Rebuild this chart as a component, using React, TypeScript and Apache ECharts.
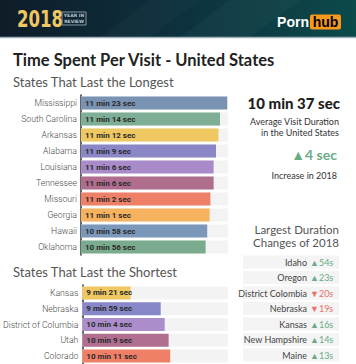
import React, { useEffect, useRef } from 'react';
import * as echarts from 'echarts';

const longStates = ['Mississippi', 'South Carolina', 'Arkansas', 'Alabama', 'Louisiana', 'Tennessee', 'Missouri', 'Georgia', 'Hawaii', 'Oklahoma'];
const longSeconds = [683, 674, 672, 669, 666, 666, 662, 661, 658, 656];
const longColors = ['#7b93b3', '#7fae96', '#efc862', '#8b86c6', '#a98bc9', '#b06e8e', '#ef8068', '#f6b25f', '#7b98bb', '#7bab8f'];

const shortStates = ['Kansas', 'Nebraska', 'District of Columbia', 'Utah', 'Colorado'];
const shortSeconds = [561, 599, 604, 609, 611];
const shortColors = ['#efc862', '#8887c8', '#ab8dcc', '#b06f8f', '#ef7f67'];

const changeStates = ['Idaho', 'Oregon', 'District Colombia', 'Nebraska', 'Kansas', 'New Hampshire', 'Maine'];
const changeSeconds = [54, 23, -20, -19, 16, 14, 13];

const averageText = '10 min 37 sec';
const increaseText = '4 sec';

const FONT = 'Lato';
const GREEN = '#6aab86';
const RED = '#e8736a';

const fmt = (v: number) => `${Math.floor(v / 60)} min ${v % 60} sec`;

function barSeries(idx: number, values: number[], colors: string[]) {
  return {
    type: 'bar',
    xAxisIndex: idx,
    yAxisIndex: idx,
    barWidth: 13,
    showBackground: true,
    backgroundStyle: { color: '#f3f3f3' },
    data: values.map((v, i) => ({ value: v, itemStyle: { color: colors[i] } })),
    label: {
      show: true,
      position: 'insideLeft',
      distance: 4,
      fontSize: 8,
      fontWeight: 'bold',
      fontFamily: 'Roboto',
      color: '#2a2a2a',
      formatter: (p: any) => fmt(p.value),
    },
  };
}

function yAxis(idx: number, data: string[]) {
  return {
    gridIndex: idx,
    type: 'category',
    data,
    inverse: true,
    axisLine: { show: true, onZero: false, lineStyle: { color: '#333', width: 1.5 } },
    axisTick: { show: false },
    axisLabel: { fontSize: 8.7, color: '#4a4a4a', fontWeight: 300, margin: 4, fontFamily: 'Roboto' },
  };
}

function xAxis(idx: number) {
  return { gridIndex: idx, type: 'value', min: 500, max: 684, startValue: 500, show: false };
}

export default function App() {
  const ref = useRef<HTMLDivElement>(null);
  useEffect(() => {
    document.body.style.margin = '0';
    const chart = echarts.init(ref.current!, null, { renderer: 'svg' });

    const table: any[] = [];
    changeStates.forEach((s, i) => {
      const y = 262 + i * 15.5;
      const v = changeSeconds[i];
      table.push({ type: 'rect', shape: { x: 243, y: y - 6.5, width: 96, height: 13 }, style: { fill: '#f4f4f4' } });
      table.push({ type: 'text', x: 307, y, style: { text: s, fontSize: 9, fontFamily: FONT, fill: '#444', align: 'right', verticalAlign: 'middle' } });
      table.push({
        type: 'text', x: 310, y,
        style: { text: `${v >= 0 ? '▲' : '▼'}${Math.abs(v)}s`, fontSize: 9, fontFamily: FONT, fill: v >= 0 ? GREEN : RED, align: 'left', verticalAlign: 'middle' },
      });
    });

    chart.setOption({
      animation: false,
      backgroundColor: '#ffffff',
      grid: [
        { left: 81, top: 95, width: 147, height: 160 },
        { left: 81, top: 285, width: 147, height: 79 },
      ],
      xAxis: [xAxis(0), xAxis(1)],
      yAxis: [yAxis(0, longStates), yAxis(1, shortStates)],
      series: [barSeries(0, longSeconds, longColors), barSeries(1, shortSeconds, shortColors)],
      graphic: [
        {
          type: 'rect', shape: { x: 0, y: 0, width: 356, height: 37 },
          style: { fill: new echarts.graphic.LinearGradient(0, 0, 1, 0, [{ offset: 0, color: '#0e1c28' }, { offset: 0.55, color: '#0d3340' }, { offset: 1, color: '#0c4a4a' }]) },
        },
        { type: 'polygon', shape: { points: [[150, 0], [200, 0], [150, 37], [100, 37]] }, style: { fill: 'rgba(255,255,255,0.025)' } },
        { type: 'polygon', shape: { points: [[230, 0], [300, 0], [250, 37], [180, 37]] }, style: { fill: 'rgba(255,255,255,0.03)' } },
        { type: 'line', shape: { x1: 0, y1: 37.5, x2: 356, y2: 37.5 }, style: { stroke: '#9fb1ba', lineWidth: 1.5 } },
        { type: 'text', x: 17, y: 7, scaleX: 0.72, style: { text: '2018', fontSize: 23, fontWeight: 'bold', fontFamily: 'DejaVu Sans', fill: '#f2c660' } },
        { type: 'rect', shape: { x: 62, y: 12, width: 24, height: 13 }, style: { fill: 'none', stroke: '#8697a2', lineWidth: 1 } },
        { type: 'text', x: 74, y: 15.5, style: { text: 'YEAR IN', fontSize: 4.5, fontWeight: 'bold', fontFamily: 'DejaVu Sans', fill: '#b9c5cd', align: 'center', verticalAlign: 'middle' } },
        { type: 'text', x: 74, y: 21, style: { text: 'REVIEW', fontSize: 4.5, fontWeight: 'bold', fontFamily: 'DejaVu Sans', fill: '#b9c5cd', align: 'center', verticalAlign: 'middle' } },
        { type: 'text', x: 309, y: 22, style: { text: 'Porn', fontSize: 14, fontWeight: 'bold', fontFamily: 'Liberation Sans', fill: '#ffffff', align: 'right', verticalAlign: 'middle' } },
        { type: 'rect', shape: { x: 310, y: 14.5, width: 31, height: 15, r: 2 }, style: { fill: '#f7981d' } },
        { type: 'text', x: 325.5, y: 22, style: { text: 'hub', fontSize: 14, fontWeight: 'bold', fontFamily: 'Liberation Sans', fill: '#000000', align: 'center', verticalAlign: 'middle' } },

        { type: 'text', x: 13, y: 60, style: { text: 'Time Spent Per Visit - United States', fontSize: 16.5, fontWeight: 'bold', fontFamily: FONT, fill: '#222', verticalAlign: 'middle' } },
        { type: 'text', x: 13, y: 82, style: { text: 'States That Last the Longest', fontSize: 13, fontFamily: FONT, fill: '#555', verticalAlign: 'middle' } },
        { type: 'text', x: 13, y: 272, style: { text: 'States That Last the Shortest', fontSize: 13, fontFamily: FONT, fill: '#555', verticalAlign: 'middle' } },

        { type: 'text', x: 340, y: 103, style: { text: averageText, fontSize: 15, fontWeight: 900, fontFamily: FONT, fill: '#1e1e1e', align: 'right', verticalAlign: 'middle' } },
        { type: 'text', x: 339, y: 121, style: { text: 'Average Visit Duration', fontSize: 9, fontFamily: FONT, fill: '#333', align: 'right', verticalAlign: 'middle' } },
        { type: 'text', x: 339, y: 132.5, style: { text: 'in the United States', fontSize: 9, fontFamily: FONT, fill: '#333', align: 'right', verticalAlign: 'middle' } },
        { type: 'text', x: 337, y: 154, style: { text: '▲' + increaseText, fontSize: 14, fontWeight: 'bold', fontFamily: FONT, fill: GREEN, align: 'right', verticalAlign: 'middle' } },
        { type: 'text', x: 337, y: 175, style: { text: 'Increase in 2018', fontSize: 9, fontFamily: FONT, fill: '#333', align: 'right', verticalAlign: 'middle' } },

        { type: 'text', x: 339, y: 229.5, style: { text: 'Largest Duration', fontSize: 11.5, fontFamily: FONT, fill: '#555', align: 'right', verticalAlign: 'middle' } },
        { type: 'text', x: 339, y: 242.5, style: { text: 'Changes of 2018', fontSize: 11.5, fontFamily: FONT, fill: '#555', align: 'right', verticalAlign: 'middle' } },
        ...table,
      ],
    });
    return () => chart.dispose();
  }, []);
  return <div ref={ref} style={{ width: 356, height: 364 }} />;
}
